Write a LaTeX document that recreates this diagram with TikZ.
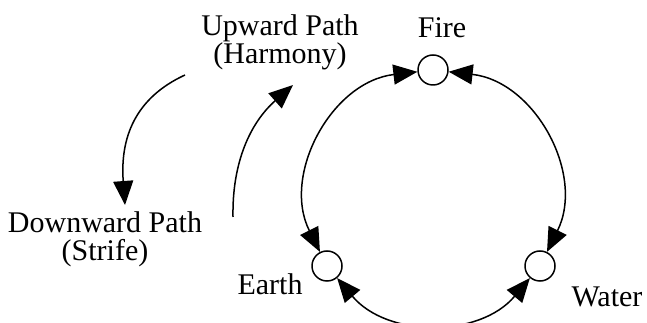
\documentclass[tikz,border=0pt]{standalone}
\usepackage{fontspec}
\setmainfont{Liberation Serif}
\usetikzlibrary{arrows.meta}
\begin{document}
\begin{tikzpicture}[x=1pt,y=1pt,
  lbl/.style={font=\fontsize{30}{28}\selectfont, inner sep=0pt, anchor=base},
  elem/.style={circle, draw, line width=1.5pt, minimum size=30pt, inner sep=0pt},
  conn/.style={line width=1.5pt, {Triangle[length=24pt,width=20pt]}-{Triangle[length=24pt,width=20pt]}},
  flow/.style={line width=1.5pt, -{Triangle[length=24pt,width=20pt]}}]
\useasboundingbox (0,0) rectangle (647,323);
\node[elem] (fire) at (433,253) {};
\node[elem] (earth) at (327,57) {};
\node[elem] (water) at (540,57) {};
\draw[conn] (fire) to[bend right=55, looseness=1.08] (earth);
\draw[conn] (earth) to[bend right=50, looseness=1.04] (water);
\draw[conn] (water) to[bend right=55, looseness=1.08] (fire);
\node[lbl] (tfire) at (442,285) {Fire};
\node[lbl] (tearth) at (270,28) {Earth};
\node[lbl] (twater) at (607,16) {Water};
\node[lbl] (up1) at (280,287) {Upward Path};
\node[lbl] (up2) at (280,259) {(Harmony)};
\node[lbl] (dn1) at (105,90) {Downward Path};
\node[lbl] (dn2) at (105,62) {(Strife)};
\coordinate (ds) at (185,248);
\coordinate (de) at (125,118);
\coordinate (us) at (233,106);
\coordinate (ue) at (293,238);
\draw[flow] (ds) .. controls (135,225) and (120,185) .. (de);
\draw[flow] (us) .. controls (232,160) and (250,200) .. (ue);
\end{tikzpicture}
\end{document}
